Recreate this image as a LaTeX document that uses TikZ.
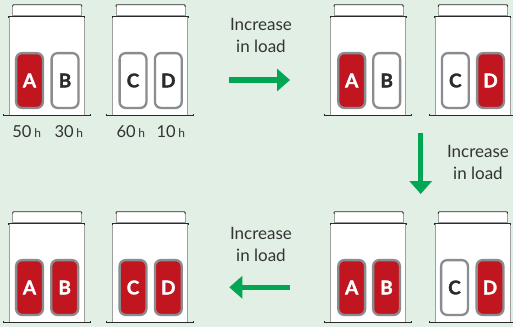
\documentclass[tikz,border=0pt]{standalone}
\usepackage{fontspec}
\setmainfont{Lato}
\newfontfamily\modfont{Lato}[BoldFeatures={FakeBold=1.6}]
\usetikzlibrary{arrows.meta}
\definecolor{bgmint}{HTML}{E1EFE5}
\definecolor{modred}{HTML}{C1161F}
\definecolor{modgray}{HTML}{8A8D8F}
\definecolor{arrowgreen}{HTML}{00A651}
\definecolor{cabdark}{HTML}{2B2B2B}
\definecolor{textdark}{HTML}{333333}
\tikzset{
  cabline/.style={draw=gray!75, line width=0.5pt},
  cabinet/.pic={
    % lid
    \fill[white] (3.4,-11.6) rectangle (72.4,0);
    \draw[cabline] (3.4,-10.5) -- (3.4,-0.8) (72.4,-10.5) -- (72.4,-0.8);
    \draw[cabdark, line width=0.9pt, rounded corners=0.8pt]
      (3.4,-9.6) -- (3.4,-11.6) -- (72.4,-11.6) -- (72.4,-9.6);
    \draw[gray!80, line width=0.6pt] (3.4,-1.2) -- (72.4,-1.2);
    % body
    \draw[cabline, fill=white] (0,0) rectangle (75,99.2);
    \draw[cabdark, line width=0.9pt] (-0.5,1.6) -- (-0.5,0) -- (75.5,0) -- (75.5,1.6);
    % base
    \draw[cabdark, line width=0.8pt] (-6,97.4) -- (-6,99.2) -- (81,99.2) -- (81,97.4);
  },
  module/.style={draw=modgray, line width=2.3pt, rounded corners=6pt,
    minimum width=26.8pt, minimum height=54.8pt, inner sep=0pt,
    font=\modfont\fontsize{19}{19}\selectfont\bfseries},
  modon/.style={module, fill=modred, text=white},
  modoff/.style={module, fill=white, text=cabdark},
  garrow/.style={draw=arrowgreen, line width=5.5pt,
    -{Triangle[length=13pt, width=22pt]}},
  loadlabel/.style={align=center, text=textdark, inner sep=0pt,
    font=\fontsize{17}{22}\selectfont},
  hours/.style={anchor=base, text=textdark, inner sep=0pt,
    font=\fontsize{16.5}{17}\selectfont},
}
\newcommand{\hsmall}{\fontsize{12}{12}\selectfont h}
\begin{document}
\begin{tikzpicture}[x=1pt, y=-1pt]
  \fill[bgmint] (0,0) rectangle (513,327);
  \useasboundingbox (0,0) rectangle (513,327);

  % cabinets: top-left, top-right, bottom-right, bottom-left
  \pic at (9.3,16.3) {cabinet};
  \pic at (112.7,16.3) {cabinet};
  \pic at (330.7,16.3) {cabinet};
  \pic at (435,16.3) {cabinet};
  \pic at (330.7,223.3) {cabinet};
  \pic at (435,223.3) {cabinet};
  \pic at (9.3,223.3) {cabinet};
  \pic at (112.7,223.3) {cabinet};

  % top-left: only A running
  \node[modon]  (a1) at (29.5,80.5) {A};
  \node[modoff] (b1) at (65,80.5) {B};
  \node[modoff] (c1) at (133,80.5) {C};
  \node[modoff] (d1) at (168.3,80.5) {D};
  \node[hours] (h1) at (26.7,137.7) {50\,\hsmall};
  \node[hours] (h2) at (68.8,137.7) {30\,\hsmall};
  \node[hours] (h3) at (130.8,137.7) {60\,\hsmall};
  \node[hours] (h4) at (170.8,137.7) {10\,\hsmall};

  % top-right: A and D running
  \node[modon]  (a2) at (351.7,80.5) {A};
  \node[modoff] (b2) at (386.7,80.5) {B};
  \node[modoff] (c2) at (455.3,80.5) {C};
  \node[modon]  (d2) at (490.5,80.5) {D};

  % bottom-right: A, B and D running
  \node[modon]  (a3) at (351.7,287.5) {A};
  \node[modon]  (b3) at (386.5,287.5) {B};
  \node[modoff] (c3) at (454.5,287.5) {C};
  \node[modon]  (d3) at (490,287.5) {D};

  % bottom-left: all running
  \node[modon] (a4) at (29.5,287.5) {A};
  \node[modon] (b4) at (64.7,287.5) {B};
  \node[modon] (c4) at (133,287.5) {C};
  \node[modon] (d4) at (168.3,287.5) {D};

  % load steps
  \coordinate (s1) at (229,80);
  \coordinate (e1) at (290,80);
  \draw[garrow] (s1) -- (e1);
  \node[loadlabel] (l1) at (261,35) {Increase\\in load};

  \coordinate (s2) at (420.7,133);
  \coordinate (e2) at (420.7,194);
  \draw[garrow] (s2) -- (e2);
  \node[loadlabel] (l2) at (478,162) {Increase\\in load};

  \coordinate (s3) at (290,287.3);
  \coordinate (e3) at (229.3,287.3);
  \draw[garrow] (s3) -- (e3);
  \node[loadlabel] (l3) at (261,244) {Increase\\in load};
\end{tikzpicture}
\end{document}
